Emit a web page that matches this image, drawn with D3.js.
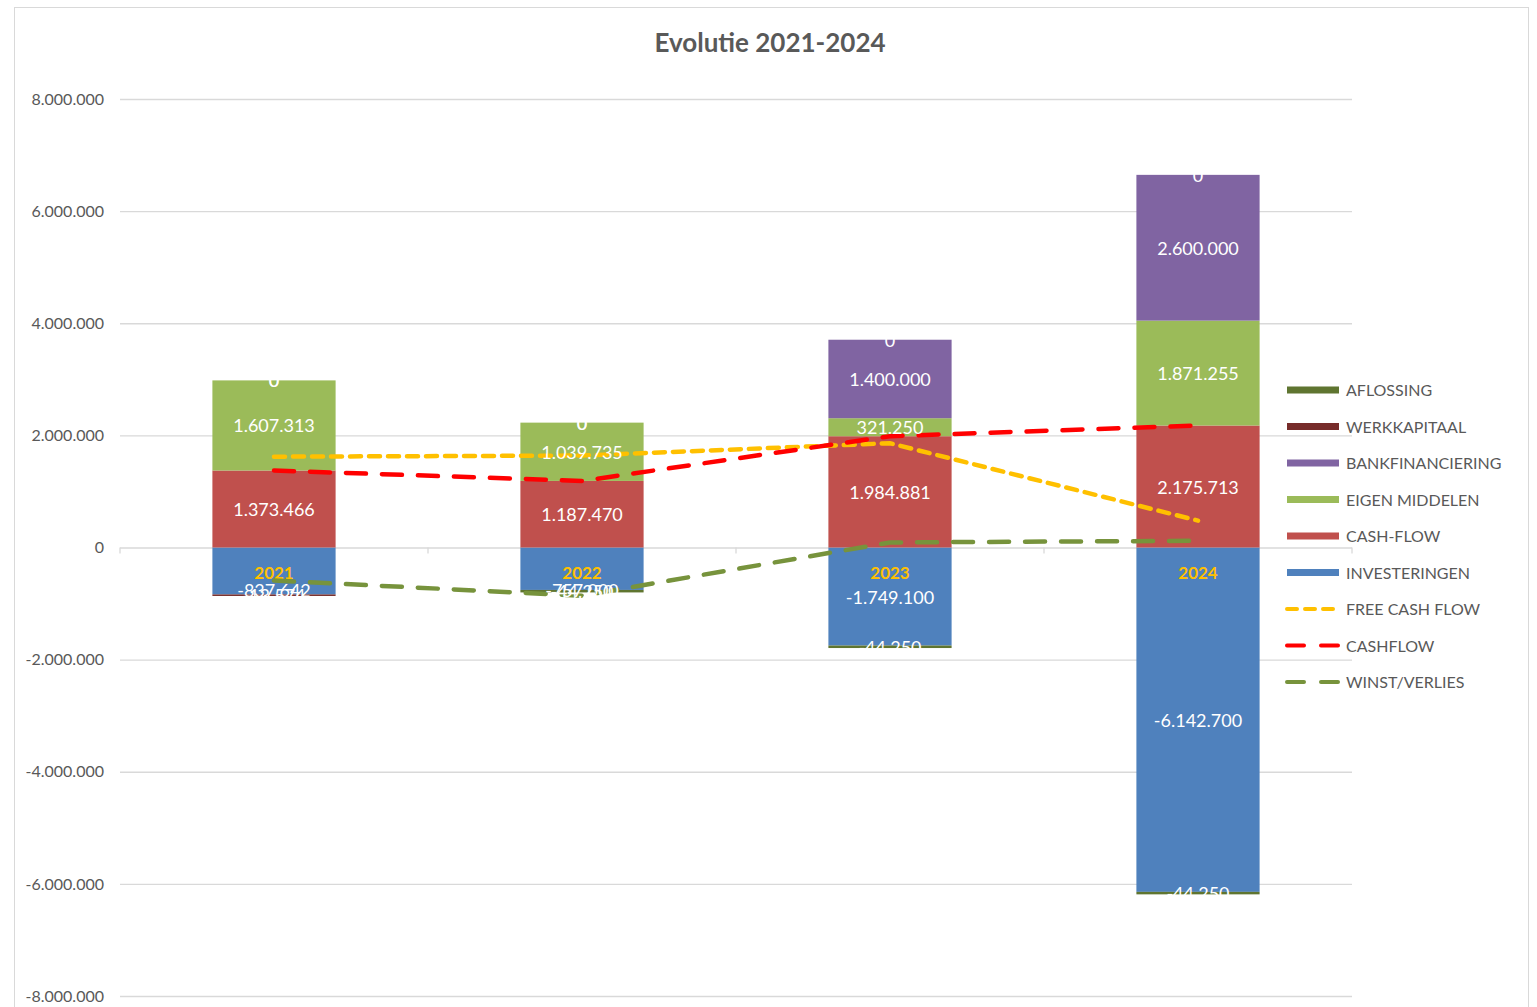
<!DOCTYPE html>
<html>
<head>
<meta charset="utf-8">
<script src="https://cdn.jsdelivr.net/npm/d3@7"></script>
<style>
  body { margin: 0; background: #fff; }
  svg text { font-family: Lato, "Noto Sans", sans-serif; }
</style>
</head>
<body>
<div id="chart"></div>
<script>
// data
var years = ['2021', '2022', '2023', '2024']
var investeringen = [-837642, -757000, -1749100, -6142700]
var cashFlowBars = [1373466, 1187470, 1984881, 2175713]
var eigenMiddelen = [1607313, 1039735, 321250, 1871255]
var bankfinanciering = [0, 0, 1400000, 2600000]
var werkkapitaal = [-13574, 0, 0, 0]
var aflossing = [0, -44250, -44250, -44250]
var freeCashFlow = [1620000, 1640000, 1860000, 480000]
var cashflowLine = [1373466, 1187470, 1984881, 2175713]
var winstVerlies = [-590000, -860000, 90000, 120000]
var yTicks = [-8000000, -6000000, -4000000, -2000000, 0, 2000000, 4000000, 6000000, 8000000]

var barSeries = [
  {name: 'INVESTERINGEN', values: investeringen, color: '#4f81bd'},
  {name: 'CASH-FLOW', values: cashFlowBars, color: '#c0504d'},
  {name: 'EIGEN MIDDELEN', values: eigenMiddelen, color: '#9bbb59'},
  {name: 'BANKFINANCIERING', values: bankfinanciering, color: '#8064a2'},
  {name: 'WERKKAPITAAL', values: werkkapitaal, color: '#772c2a'},
  {name: 'AFLOSSING', values: aflossing, color: '#5f7530'}
]
var lineSeries = [
  {name: 'FREE CASH FLOW', values: freeCashFlow, color: '#ffc000', dash: '11,8'},
  {name: 'CASHFLOW', values: cashflowLine, color: '#ff0000', dash: '20,16'},
  {name: 'WINST/VERLIES', values: winstVerlies, color: '#77933c', dash: '20,16'}
]

var width = 1537
var height = 1007

var svg = d3.select('#chart')
  .append('svg')
  .attr('width', width)
  .attr('height', height)

svg.append('rect')
  .attr('x', 14.5).attr('y', 7.5)
  .attr('width', 1514).attr('height', 1020)
  .attr('fill', 'none')
  .attr('stroke', '#d9d9d9')

var xPositionScale = d3.scaleBand().domain(years).range([120, 1352]).paddingInner(0.6).paddingOuter(0.3)
var yPositionScale = d3.scaleLinear().domain([-8000000, 8000000]).range([996, 99])

var nl = d3.formatLocale({decimal: ',', thousands: '.', grouping: [3], currency: ['', ''], minus: '-'})
var fmt = nl.format(',')

svg.append('text')
  .attr('x', 770).attr('y', 52)
  .attr('text-anchor', 'middle')
  .attr('font-size', 26).attr('font-weight', 'bold')
  .attr('fill', '#595959')
  .text('Evolutie 2021-2024')

// gridlines + y labels
var yAxis = d3.axisLeft(yPositionScale)
  .tickValues(yTicks)
  .tickSize(-(1352 - 120))
  .tickPadding(16)
  .tickFormat(fmt)
svg.append('g')
  .attr('class', 'axis axis-y')
  .attr('transform', 'translate(120,0)')
  .call(yAxis)
  .call(g => g.select('.domain').remove())
  .call(g => g.selectAll('line').attr('stroke', '#d9d9d9').attr('stroke-width', 1.3))
  .call(g => g.selectAll('text').attr('fill', '#595959').attr('font-size', 16))

// category ticks on the zero line
var zeroY = yPositionScale(0)
var step = xPositionScale.step()
svg.append('g')
  .selectAll('line')
  .data(d3.range(years.length + 1))
  .enter().append('line')
  .attr('x1', d => 120 + d * step).attr('x2', d => 120 + d * step)
  .attr('y1', zeroY).attr('y2', zeroY + 6)
  .attr('stroke', '#d9d9d9').attr('stroke-width', 1.3)

// stacking: positives up, negatives down, zeros at the top of the positive stack
var stacked = []
years.forEach(function(year, j) {
  var yp = 0, yn = 0
  barSeries.forEach(function(s) {
    var v = s.values[j], y0, y1
    if (v < 0) { y1 = yn; yn += v; y0 = yn } else { y0 = yp; yp += v; y1 = yp }
    stacked.push({year: year, series: s, value: v, y0: y0, y1: y1})
  })
})

svg.append('g')
  .attr('class', 'bars')
  .selectAll('.bar')
  .data(stacked.filter(d => d.value !== 0))
  .enter().append('rect')
  .attr('class', 'bar')
  .attr('x', d => xPositionScale(d.year))
  .attr('width', xPositionScale.bandwidth())
  .attr('y', d => yPositionScale(d.y1))
  .attr('height', d => Math.max(yPositionScale(d.y0) - yPositionScale(d.y1), 1.5))
  .attr('fill', d => d.series.color)

svg.append('g')
  .selectAll('.year-label')
  .data(years)
  .enter().append('text')
  .attr('x', d => xPositionScale(d) + xPositionScale.bandwidth() / 2)
  .attr('y', zeroY + 31)
  .attr('text-anchor', 'middle')
  .attr('font-size', 17).attr('font-weight', 'bold')
  .attr('fill', '#ffc000')
  .text(d => d)

// lines
var line = d3.line()
  .x((d, i) => xPositionScale(years[i]) + xPositionScale.bandwidth() / 2)
  .y(d => yPositionScale(d))

svg.append('g')
  .selectAll('.line')
  .data(lineSeries)
  .enter().append('path')
  .attr('d', d => line(d.values))
  .attr('fill', 'none')
  .attr('stroke', d => d.color)
  .attr('stroke-width', 4.5)
  .attr('stroke-dasharray', d => d.dash)
  .attr('stroke-linecap', 'round')

// data labels
svg.append('g')
  .selectAll('.value-label')
  .data(stacked)
  .enter().append('text')
  .attr('x', d => xPositionScale(d.year) + xPositionScale.bandwidth() / 2)
  .attr('y', function(d) {
    var c = (yPositionScale(d.y0) + yPositionScale(d.y1)) / 2
    if (d.value < 0) c = Math.max(c, zeroY + 42)
    return c + 7
  })
  .attr('text-anchor', 'middle')
  .attr('font-size', 18)
  .attr('fill', '#ffffff')
  .text(d => fmt(d.value))

// legend
var legendItems = barSeries.slice().reverse().concat(lineSeries)
var legend = svg.append('g')
  .selectAll('.legend')
  .data(legendItems)
  .enter().append('g')
  .attr('transform', (d, i) => 'translate(1287,' + (390 + i * 36.5) + ')')

legend.append('line')
  .attr('x1', 0).attr('x2', 52)
  .attr('stroke', d => d.color)
  .attr('stroke-width', d => d.dash ? 4 : 7)
  .attr('stroke-dasharray', d => d.dash ? (d.name === 'FREE CASH FLOW' ? '10,8' : '17,17') : null)
  .attr('stroke-linecap', d => d.dash ? 'round' : 'butt')

legend.append('text')
  .attr('x', 59).attr('y', 6)
  .attr('font-size', 16)
  .attr('fill', '#595959')
  .text(d => d.name)
</script>
</body>
</html>
